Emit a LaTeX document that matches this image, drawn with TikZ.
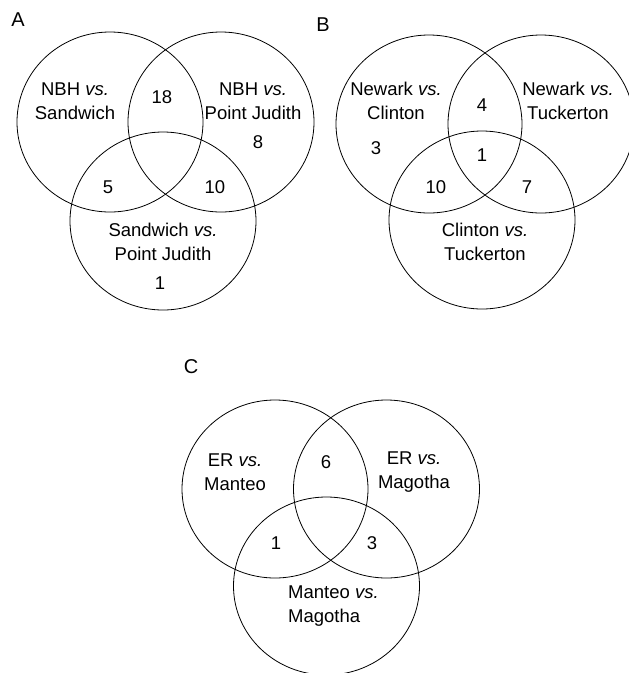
\documentclass[tikz,border=0pt]{standalone}
\usepackage{fontspec}
\setmainfont{Liberation Sans}
\begin{document}
\begin{tikzpicture}[x=1pt,y=-1pt,
  venn/.style={draw=black,line width=0.8pt},
  lbl/.style={inner sep=0pt,align=center,font=\fontsize{18.5}{23.5}\selectfont},
  lbll/.style={inner sep=0pt,align=left,font=\fontsize{18.5}{23.5}\selectfont},
  num/.style={inner sep=0pt,font=\fontsize{18.5}{22}\selectfont},
  panel/.style={inner sep=0pt,font=\fontsize{20}{22}\selectfont}]
\clip (0,0) rectangle (629,673);
\fill[white] (0,0) rectangle (629,673);
% Panel A
\node[panel] (pa) at (18,20) {A};
\draw[venn] (110,122) ellipse [x radius=93,y radius=90];
\draw[venn] (221,122) ellipse [x radius=93,y radius=90];
\draw[venn] (163,221) ellipse [x radius=93,y radius=89];
\node[lbl] (a1) at (75,101) {NBH \textit{vs.}\\Sandwich};
\node[lbl] (a2) at (253,101) {NBH \textit{vs.}\\Point Judith};
\node[lbl] (a3) at (163,242) {Sandwich \textit{vs.}\\Point Judith};
\node[num] (a12) at (162,97) {18};
\node[num] (a2o) at (258,142) {8};
\node[num] (a13) at (108,187) {5};
\node[num] (a23) at (215,187) {10};
\node[num] (a3o) at (160,283) {1};
% Panel B
\node[panel] (pb) at (323,25) {B};
\draw[venn] (429,124) ellipse [x radius=93,y radius=89];
\draw[venn] (541,124) ellipse [x radius=93,y radius=89];
\draw[venn] (482,220) ellipse [x radius=93,y radius=89];
\node[lbl] (b1) at (396,101) {Newark \textit{vs.}\\Clinton};
\node[lbl] (b2) at (568,101) {Newark \textit{vs.}\\Tuckerton};
\node[lbl] (b3) at (485,242) {Clinton \textit{vs.}\\Tuckerton};
\node[num] (b12) at (482,105) {4};
\node[num] (b1o) at (376,148) {3};
\node[num] (b123) at (482,155) {1};
\node[num] (b13) at (436,187) {10};
\node[num] (b23) at (527,187) {7};
% Panel C
\node[panel] (pc) at (191,367) {C};
\draw[venn] (275,489) ellipse [x radius=93,y radius=89];
\draw[venn] (386.5,489) ellipse [x radius=93,y radius=89];
\draw[venn] (326.5,586) ellipse [x radius=93,y radius=89];
\node[lbl] (c1) at (235,472) {ER \textit{vs.}\\Manteo};
\node[lbl] (c2) at (414,472) {ER \textit{vs.}\\Magotha};
\node[lbll,anchor=west] (c3) at (288,606) {Manteo \textit{vs.}\\Magotha};
\node[num] (c12) at (326,462) {6};
\node[num] (c13) at (276,543) {1};
\node[num] (c23) at (372,543) {3};
\end{tikzpicture}
\end{document}
